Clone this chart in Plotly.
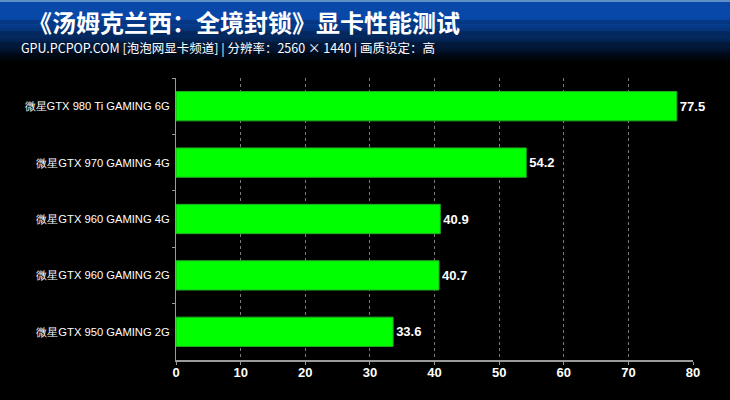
import plotly.graph_objects as go

categories = ["微星GTX 980 Ti GAMING 6G", "微星GTX 970 GAMING 4G", "微星GTX 960 GAMING 4G",
              "微星GTX 960 GAMING 2G", "微星GTX 950 GAMING 2G"]
values = [77.5, 54.2, 40.9, 40.7, 33.6]
tick_vals = [0, 10, 20, 30, 40, 50, 60, 70, 80]
title_text = "《汤姆克兰西：全境封锁》显卡性能测试"
subtitle_text = "GPU.PCPOP.COM [泡泡网显卡频道] | 分辨率：2560 × 1440 | 画质设定：高"

fig = go.Figure()
fig.add_trace(go.Bar(
    y=categories, x=values, orientation="h",
    width=0.52,
    marker=dict(color="#00FF00", line=dict(color="#22aa22", width=1)),
    text=[f"{v:.1f}" for v in values], textposition="outside",
    textfont=dict(color="white", size=13, family="Liberation Sans, Arial", weight="bold"),
    cliponaxis=False, hoverinfo="skip",
))

plot_h = 400 - 78 - 40
def py(p):  # pixel from top -> paper y
    return (400 - 40 - p) / plot_h

shapes = [dict(type="rect", xref="paper", yref="paper", x0=-2, x1=2, y0=py(2), y1=py(0),
               fillcolor="#5f8fc4", line_width=0, layer="below")]
shapes.append(dict(type="rect", xref="paper", yref="paper", x0=-2, x1=2, y0=py(18), y1=py(2),
                   fillcolor="#0848a8", line_width=0, layer="below"))
n = 40
start, end = 18, 62
for i in range(n):
    t = (i + 0.5) / n
    r = int(8 * (1 - t)); g = int(72 * (1 - t)); b = int(168 * (1 - t))
    y0p = start + (end - start) * i / n
    y1p = start + (end - start) * (i + 1) / n
    shapes.append(dict(type="rect", xref="paper", yref="paper", x0=-2, x1=2,
                       y0=py(y1p + 0.3), y1=py(y0p), fillcolor=f"rgb({r},{g},{b})",
                       line_width=0, layer="below"))

fig.update_layout(
    width=730, height=400,
    margin=dict(l=176, r=37, t=78, b=40),
    paper_bgcolor="black", plot_bgcolor="black",
    showlegend=False,
    shapes=shapes,
    xaxis=dict(range=[0, 80], tickvals=tick_vals, showgrid=True,
               gridcolor="#7a7a7a", griddash="dot", gridwidth=1,
               showline=True, linecolor="#9a9a9a", linewidth=2,
               ticks="outside", ticklen=3, tickcolor="#9a9a9a", ticklabelstandoff=-4,
               tickfont=dict(color="white", size=13, family="Liberation Sans, Arial", weight="bold"),
               zeroline=False, fixedrange=True),
    yaxis=dict(autorange="reversed", showline=True, linecolor="#9a9a9a", linewidth=1,
               ticks="outside", ticklen=3, tickcolor="#9a9a9a", tickson="boundaries",
               tickfont=dict(color="white", size=11.2, family="Liberation Sans Narrow, Liberation Sans, Arial"),
               showgrid=False, ticksuffix=" ", fixedrange=True),
    annotations=[
        dict(text=title_text, xref="paper", yref="paper", x=(26 - 176) / 517, y=py(22),
             xanchor="left", yanchor="middle", showarrow=False,
             font=dict(color="white", size=24, family="Noto Sans CJK SC", weight="bold")),
        dict(text=subtitle_text, xref="paper", yref="paper", x=(19 - 176) / 517, y=py(47),
             xanchor="left", yanchor="middle", showarrow=False,
             font=dict(color="white", size=12.5, family="Noto Sans CJK SC")),
    ],
)

fig.write_html("out.html", config={"displayModeBar": False},
               post_script="document.body.style.margin='0';document.body.style.overflow='hidden';")
